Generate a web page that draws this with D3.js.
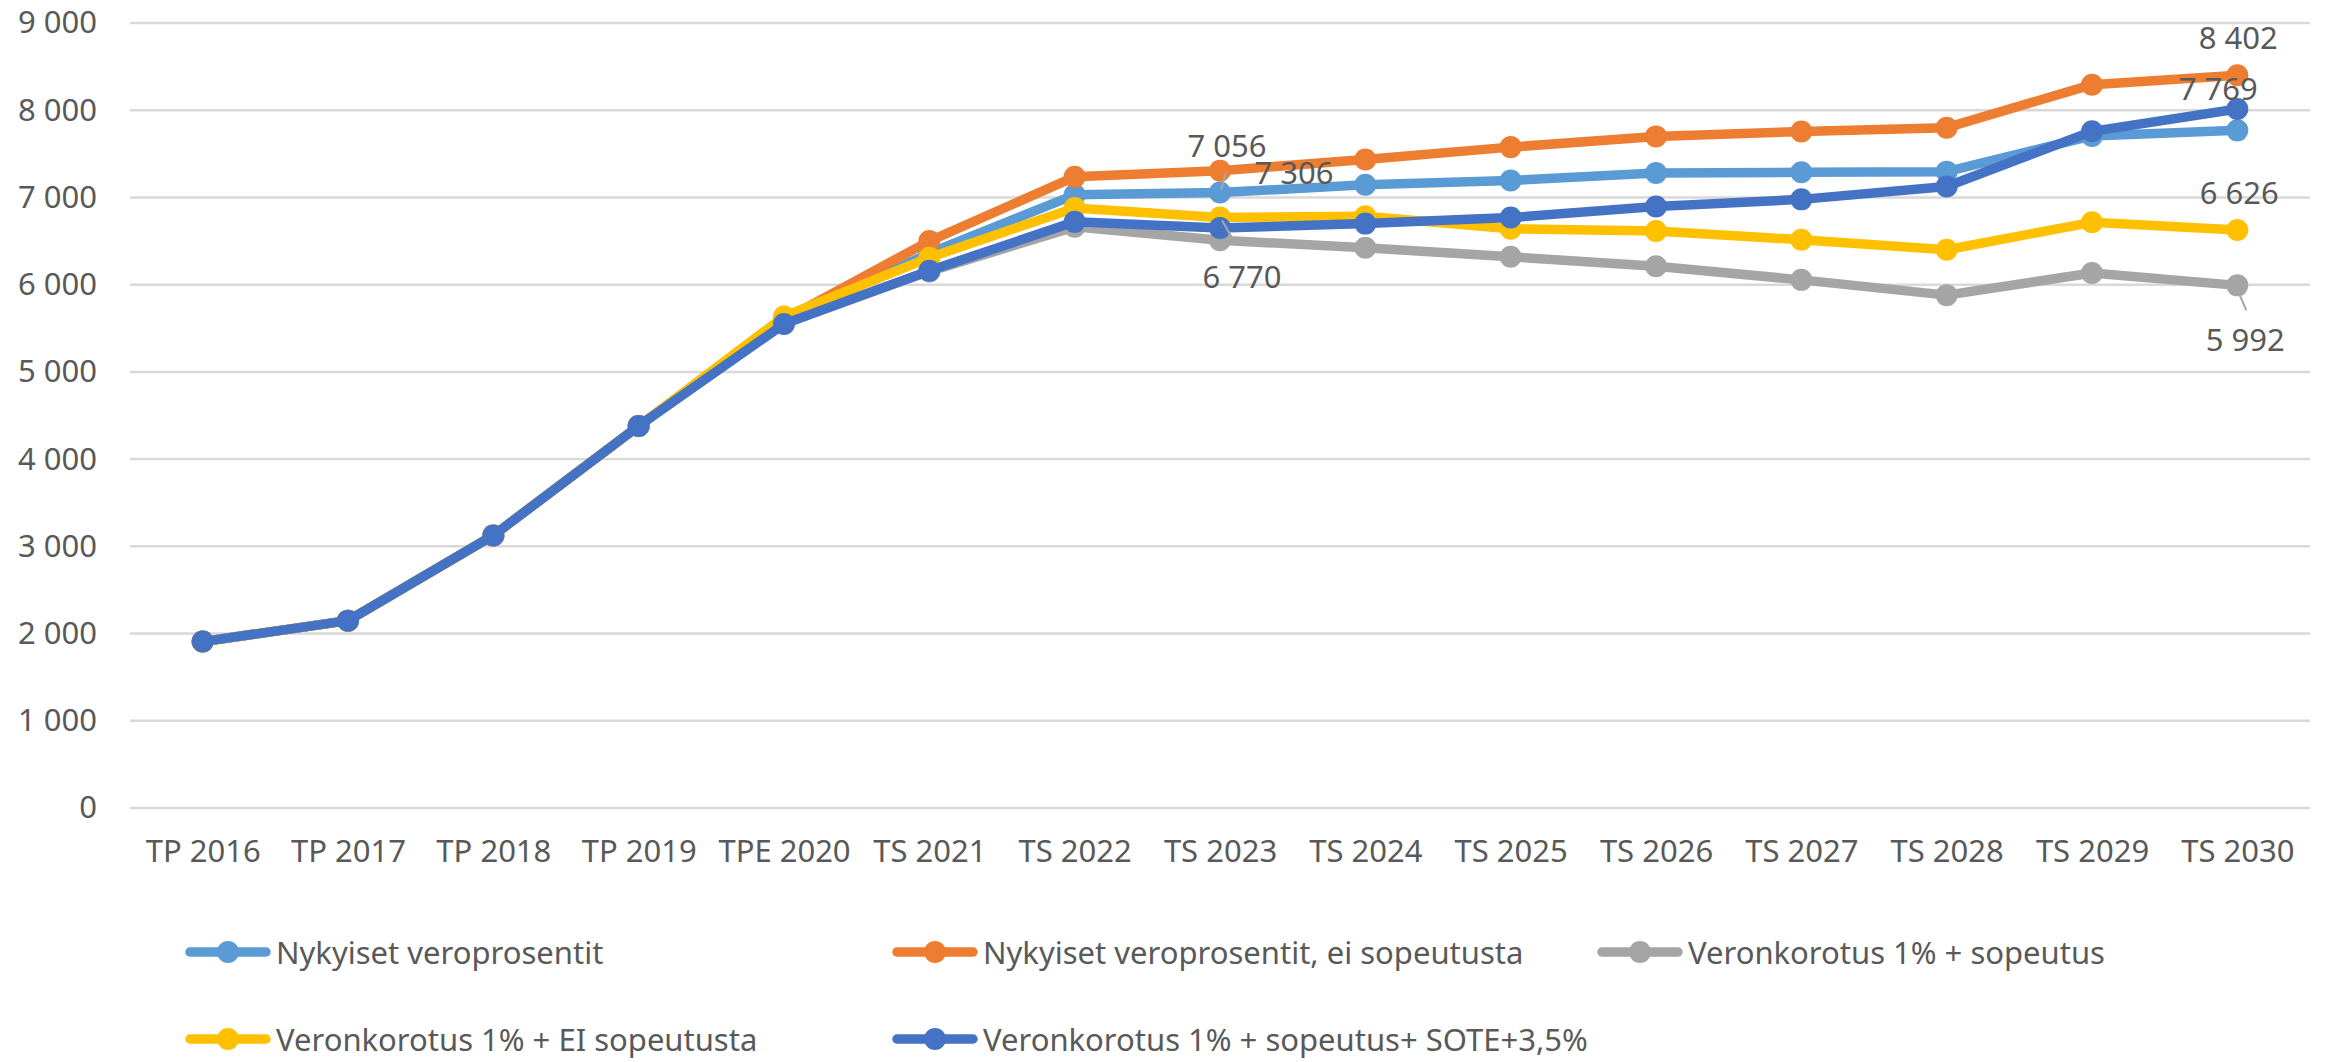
<!DOCTYPE html>
<html>
<head>
<meta charset="utf-8">
<script src="https://cdn.jsdelivr.net/npm/d3@7"></script>
<style>
    html, body { margin: 0; padding: 0; background: #fff; }
    text { font-family: 'Noto Sans', 'Open Sans', sans-serif; fill: #595959; }
</style>
</head>
<body>
<div id="chart"></div>
<script>
// defining data
const categories = ['TP 2016', 'TP 2017', 'TP 2018', 'TP 2019', 'TPE 2020', 'TS 2021', 'TS 2022', 'TS 2023',
    'TS 2024', 'TS 2025', 'TS 2026', 'TS 2027', 'TS 2028', 'TS 2029', 'TS 2030'];

const nykyiset = [1908, 2148, 3125, 4380, 5590, 6360, 7030, 7056, 7145, 7195, 7281, 7288, 7296, 7705, 7769];
const nykyisetEiSopeutusta = [1908, 2148, 3125, 4380, 5600, 6500, 7236, 7306, 7435, 7577, 7700, 7755, 7800, 8293, 8402];
const korotusSopeutus = [1908, 2148, 3125, 4380, 5560, 6150, 6663, 6510, 6423, 6319, 6212, 6055, 5880, 6134, 5992];
const korotusEiSopeutusta = [1908, 2148, 3125, 4380, 5635, 6310, 6880, 6770, 6785, 6642, 6615, 6515, 6400, 6715, 6626];
const korotusSote = [1908, 2148, 3125, 4380, 5549, 6160, 6720, 6650, 6700, 6769, 6896, 6978, 7125, 7758, 8014];

const yTicks = [0, 1000, 2000, 3000, 4000, 5000, 6000, 7000, 8000, 9000];

const seriesNames = ['Nykyiset veroprosentit', 'Nykyiset veroprosentit, ei sopeutusta', 'Veronkorotus 1% + sopeutus',
    'Veronkorotus 1% + EI sopeutusta', 'Veronkorotus 1% + sopeutus+ SOTE+3,5%'];
const seriesValues = [nykyiset, nykyisetEiSopeutusta, korotusSopeutus, korotusEiSopeutusta, korotusSote];
const seriesColors = ['#5B9BD5', '#ED7D31', '#A5A5A5', '#FFC000', '#4472C4'];

// data labels: series index, category index
const dataLabels = [
    {s: 0, i: 7}, {s: 1, i: 7}, {s: 3, i: 7},
    {s: 1, i: 14}, {s: 0, i: 14}, {s: 3, i: 14}, {s: 2, i: 14}
];

// label placement (layout only)
const labelLayout = {
    '0-7': {dx: 7, dy: -48, leader: [[6, -20], [1, -3]]},
    '1-7': {dx: 74, dy: 1},
    '3-7': {dx: 22, dy: 58, leader: [[2, 3], [12, 20]]},
    '1-14': {dx: 1, dy: -38},
    '0-14': {dx: -19, dy: -42},
    '3-14': {dx: 2, dy: -38},
    '2-14': {dx: 8, dy: 54, leader: [[0, 4], [9, 25]]}
};

// declaring setup/layout variables
const width = 2328;
const height = 1062;
const plot = {l: 130, r: 2310, t: 23, b: 808};
const legendCols = [186, 893, 1598];
const legendRows = [952, 1039];
const fmt = v => d3.format(',')(v).replace(/,/g, '\u00a0');

const svg = d3.select('#chart')
    .append('svg')
    .attr('width', width)
    .attr('height', height);

// setting up scales
const x = d3.scalePoint()
    .domain(categories)
    .range([plot.l, plot.r])
    .padding(0.5);

const y = d3.scaleLinear()
    .domain([0, 9000])
    .range([plot.b, plot.t]);

// gridlines
svg.append('g')
    .selectAll('line')
    .data(yTicks)
    .enter()
    .append('line')
    .attr('x1', plot.l)
    .attr('x2', plot.r)
    .attr('y1', d => y(d))
    .attr('y2', d => y(d))
    .style('stroke', '#D9D9D9')
    .style('stroke-width', 2.5);

// y axis labels
const yAxis = svg.append('g')
    .attr('transform', `translate(${plot.l}, 0)`)
    .call(d3.axisLeft(y).tickValues(yTicks).tickFormat(fmt).tickSize(0).tickPadding(33));
yAxis.select('.domain').remove();
yAxis.selectAll('text')
    .style('font-size', '31px')
    .style('font-family', null)
    .attr('fill', null);

// x axis labels
const xAxis = svg.append('g')
    .attr('transform', `translate(0, ${plot.b})`)
    .call(d3.axisBottom(x).tickSize(0).tickPadding(32));
xAxis.select('.domain').remove();
xAxis.selectAll('text')
    .style('font-size', '31px')
    .style('font-family', null)
    .attr('fill', null);

// lines + markers
const line = d3.line()
    .x((d, i) => x(categories[i]))
    .y(d => y(d));

const seriesG = svg.append('g')
    .selectAll('.series')
    .data(seriesValues)
    .enter()
    .append('g')
    .classed('series', true);

seriesG.append('path')
    .attr('d', d => line(d))
    .style('fill', 'none')
    .style('stroke', (d, i) => seriesColors[i])
    .style('stroke-width', 9.5)
    .style('stroke-linejoin', 'round');

seriesG.each(function(vals, si) {
    d3.select(this).selectAll('circle')
        .data(vals)
        .enter()
        .append('circle')
        .attr('cx', (d, i) => x(categories[i]))
        .attr('cy', d => y(d))
        .attr('r', 11)
        .style('fill', seriesColors[si]);
});

// data labels
const labelG = svg.append('g');
dataLabels.forEach(lb => {
    const v = seriesValues[lb.s][lb.i];
    const px = x(categories[lb.i]);
    const py = y(v);
    const lay = labelLayout[`${lb.s}-${lb.i}`];
    if (lay.leader) {
        labelG.append('line')
            .attr('x1', px + lay.leader[0][0])
            .attr('y1', py + lay.leader[0][1])
            .attr('x2', px + lay.leader[1][0])
            .attr('y2', py + lay.leader[1][1])
            .style('stroke', '#A6A6A6')
            .style('stroke-width', 2);
    }
    labelG.append('text')
        .attr('x', px + lay.dx)
        .attr('y', py + lay.dy)
        .attr('text-anchor', 'middle')
        .attr('dominant-baseline', 'central')
        .style('font-size', '31px')
        .text(fmt(v));
});

// legend
const legend = svg.append('g');
seriesNames.forEach((name, i) => {
    const lx = legendCols[i % 3];
    const ly = legendRows[Math.floor(i / 3)];
    const item = legend.append('g').attr('transform', `translate(${lx}, ${ly})`);
    item.append('line')
        .attr('x1', 4).attr('x2', 80)
        .attr('y1', 0).attr('y2', 0)
        .style('stroke', seriesColors[i])
        .style('stroke-width', 9.5)
        .style('stroke-linecap', 'round');
    item.append('circle')
        .attr('cx', 42).attr('cy', 0).attr('r', 11)
        .style('fill', seriesColors[i]);
    item.append('text')
        .attr('x', 90)
        .attr('y', 0)
        .attr('dominant-baseline', 'central')
        .style('font-size', '31px')
        .text(name);
});
</script>
</body>
</html>
